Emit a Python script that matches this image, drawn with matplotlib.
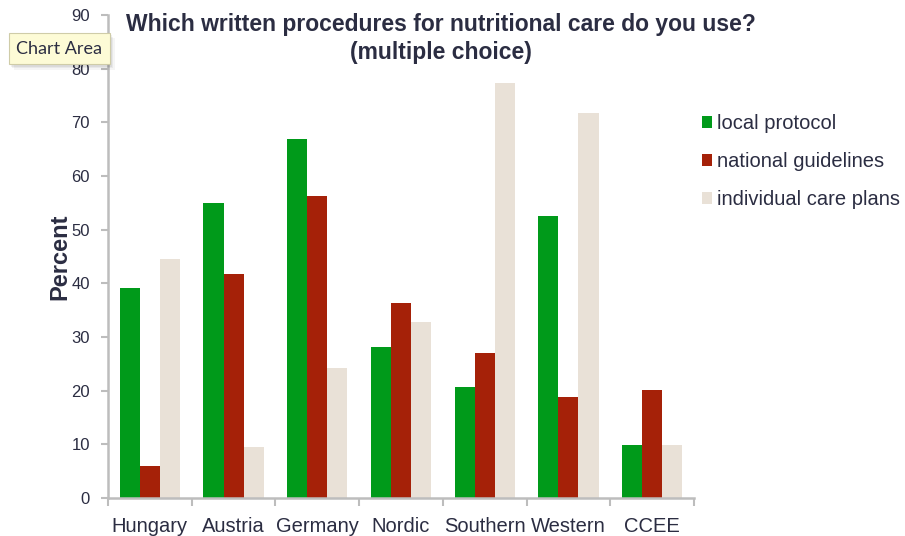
import matplotlib
matplotlib.use("Agg")
import matplotlib.pyplot as plt
import numpy as np
from matplotlib.patches import Patch, Rectangle

plt.rcParams['font.family'] = ['Liberation Sans', 'DejaVu Sans']

categories = ["Hungary", "Austria", "Germany", "Nordic", "Southern", "Western", "CCEE"]
local_protocol = [39.1, 54.9, 66.9, 28.1, 20.7, 52.5, 9.9]
national_guidelines = [6.0, 41.7, 56.2, 36.3, 27.0, 18.8, 20.1]
individual_care_plans = [44.5, 9.5, 24.2, 32.8, 77.3, 71.7, 9.9]
series_names = ["local protocol", "national guidelines", "individual care plans"]
colors = ["#009a1a", "#a52108", "#e9e1d7"]
yticks = [0, 10, 20, 30, 40, 50, 60, 70, 80, 90]

text_color = "#2b2d42"
axis_color = "#bdbdbd"

fig = plt.figure(figsize=(9.05, 5.36), dpi=100)
ax = fig.add_axes([108 / 905, 38 / 536, (694 - 108) / 905, (498 - 15) / 536])

x = np.arange(len(categories))
w = 0.24
for i, (vals, name, c) in enumerate(zip([local_protocol, national_guidelines, individual_care_plans],
                                         series_names, colors)):
    ax.bar(x + (i - 1) * w, vals, width=w, color=c, label=name, zorder=2)

ax.set_xlim(-0.5, len(categories) - 0.5)
ax.set_ylim(0, 90)
ax.set_yticks(yticks)
ax.set_yticklabels([str(t) for t in yticks], fontsize=12, color=text_color)

# boundaries carry the tick marks, centres carry the labels
ax.set_xticks(np.arange(-0.5, len(categories), 1.0))
ax.set_xticklabels([])
ax.set_xticks(x, minor=True)
ax.set_xticklabels(categories, minor=True, fontsize=14.5, color=text_color)
ax.tick_params(axis='x', which='major', length=6, width=1.5, color=axis_color, direction='out')
ax.tick_params(axis='x', which='minor', length=0, pad=13.5)
ax.tick_params(axis='y', length=5, width=1.5, color=axis_color, pad=8)

for s in ['top', 'right']:
    ax.spines[s].set_visible(False)
for s in ['left', 'bottom']:
    ax.spines[s].set_color(axis_color)
    ax.spines[s].set_linewidth(1.8)

ax.set_ylabel("Percent", fontsize=17, fontweight='bold', color=text_color, labelpad=0)

fig.text(441 / 905, 1 - 38.5 / 536, "Which written procedures for nutritional care do you use?\n(multiple choice)",
         ha='center', va='center', fontsize=16.5, fontweight='bold', color=text_color, linespacing=1.3)

handles = [Patch(facecolor=c, edgecolor='none') for c in colors]
leg = fig.legend(handles, series_names, loc='upper left', bbox_to_anchor=(702 / 905, 1 - 114 / 536),
                 frameon=False, fontsize=14.5, handlelength=0.5, handleheight=0.5, handletextpad=0.25,
                 labelspacing=0.95, borderaxespad=0, borderpad=0)
for t in leg.get_texts():
    t.set_color(text_color)

# "Chart Area" hover tooltip with a soft drop shadow
for k, a in enumerate([0.06, 0.05, 0.04]):
    fig.patches.append(Rectangle(((9 + 1.5 * (k + 1)) / 905, 1 - (65 + 1.5 * (k + 1)) / 536),
                                 101 / 905, 31 / 536, transform=fig.transFigure,
                                 facecolor='black', alpha=a, edgecolor='none', zorder=4))
fig.patches.append(Rectangle((9 / 905, 1 - 64 / 536), 101 / 905, 31 / 536, transform=fig.transFigure,
                             facecolor='#fdfbd6', edgecolor='#cfcca8', linewidth=0.8, zorder=5))
fig.text(59 / 905, 1 - 48.5 / 536, "Chart Area", ha='center', va='center', fontsize=13,
         family=['Lato', 'DejaVu Sans'], color=text_color, zorder=6)

fig.savefig("out.png", dpi=100, facecolor='white')
